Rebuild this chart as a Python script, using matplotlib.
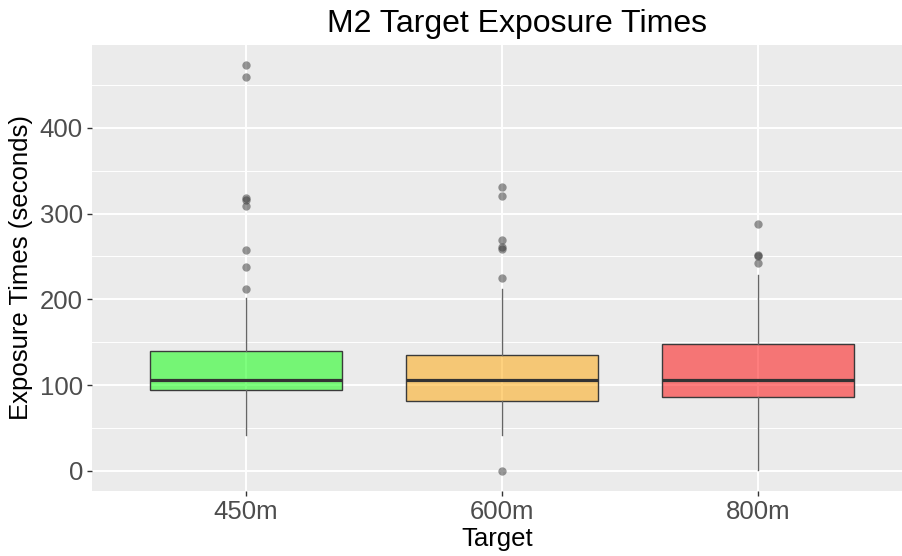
import matplotlib
matplotlib.use("Agg")
import matplotlib.pyplot as plt
from matplotlib.colors import to_rgba

plt.rcParams['font.family'] = ['Liberation Sans', 'DejaVu Sans']

# box statistics
categories = ['450m', '600m', '800m']
q1 = [94.4, 81.9, 86.5]
medians = [106.4, 105.3, 106.4]
q3 = [139.6, 134.9, 147.4]
whisker_lo = [42, 42, 1]
whisker_hi = [201, 212, 228]
outliers = [
    [473, 459, 318, 316, 309, 258, 238, 212],
    [331, 320, 269, 261, 259, 225, 0],
    [288, 252, 250, 242],
]
fill_colors = ['#00FF00', '#FFA500', '#FF0000']

stats = []
for i in range(len(categories)):
    stats.append({'label': categories[i], 'q1': q1[i], 'med': medians[i], 'q3': q3[i],
                  'whislo': whisker_lo[i], 'whishi': whisker_hi[i], 'fliers': outliers[i]})

fig = plt.figure(figsize=(9.02, 5.56), dpi=100)
ax = fig.add_axes([92 / 902, 65 / 556, 1 - 92 / 902, 446 / 556])
ax.set_facecolor('#EBEBEB')

bp = ax.bxp(stats, positions=[1, 2, 3], widths=0.75, patch_artist=True, showcaps=False,
            boxprops=dict(edgecolor='#3a3a3a', linewidth=1.0),
            medianprops=dict(color='#333333', linewidth=2.3, solid_capstyle='butt'),
            whiskerprops=dict(color='#666666', linewidth=1.0),
            flierprops=dict(marker='o', markerfacecolor='#333333', markeredgecolor='none',
                            markersize=6, alpha=0.5))
for patch, c in zip(bp['boxes'], fill_colors):
    patch.set_facecolor(to_rgba(c, 0.5))
for b in bp['boxes'] + bp['medians'] + bp['whiskers'] + bp['fliers']:
    b.set_zorder(3)

ax.set_xlim(0.4, 3.5625)
ax.set_ylim(-23.65, 496.65)
ax.set_yticks([0, 100, 200, 300, 400])
ax.set_yticks([50, 150, 250, 350, 450], minor=True)
ax.set_xticks([1, 2, 3])
ax.set_xticklabels(categories)

ax.grid(True, which='major', color='white', linewidth=1.4)
ax.grid(True, which='minor', axis='y', color='white', linewidth=0.7)
ax.set_axisbelow(True)
for s in ax.spines.values():
    s.set_visible(False)

ax.tick_params(axis='both', which='major', labelsize=18.5, labelcolor='#4D4D4D',
               color='#333333', length=3.5, width=1.0, pad=3)
ax.tick_params(axis='y', which='minor', length=0)

ax.set_xlabel('Target', fontsize=18.5, labelpad=2)
ax.set_ylabel('Exposure Times (seconds)', fontsize=18.5, labelpad=5)
fig.text(517 / 902, 1 - 24 / 556, 'M2 Target Exposure Times', fontsize=23,
         ha='center', va='center')

fig.savefig('out.png', dpi=100)
